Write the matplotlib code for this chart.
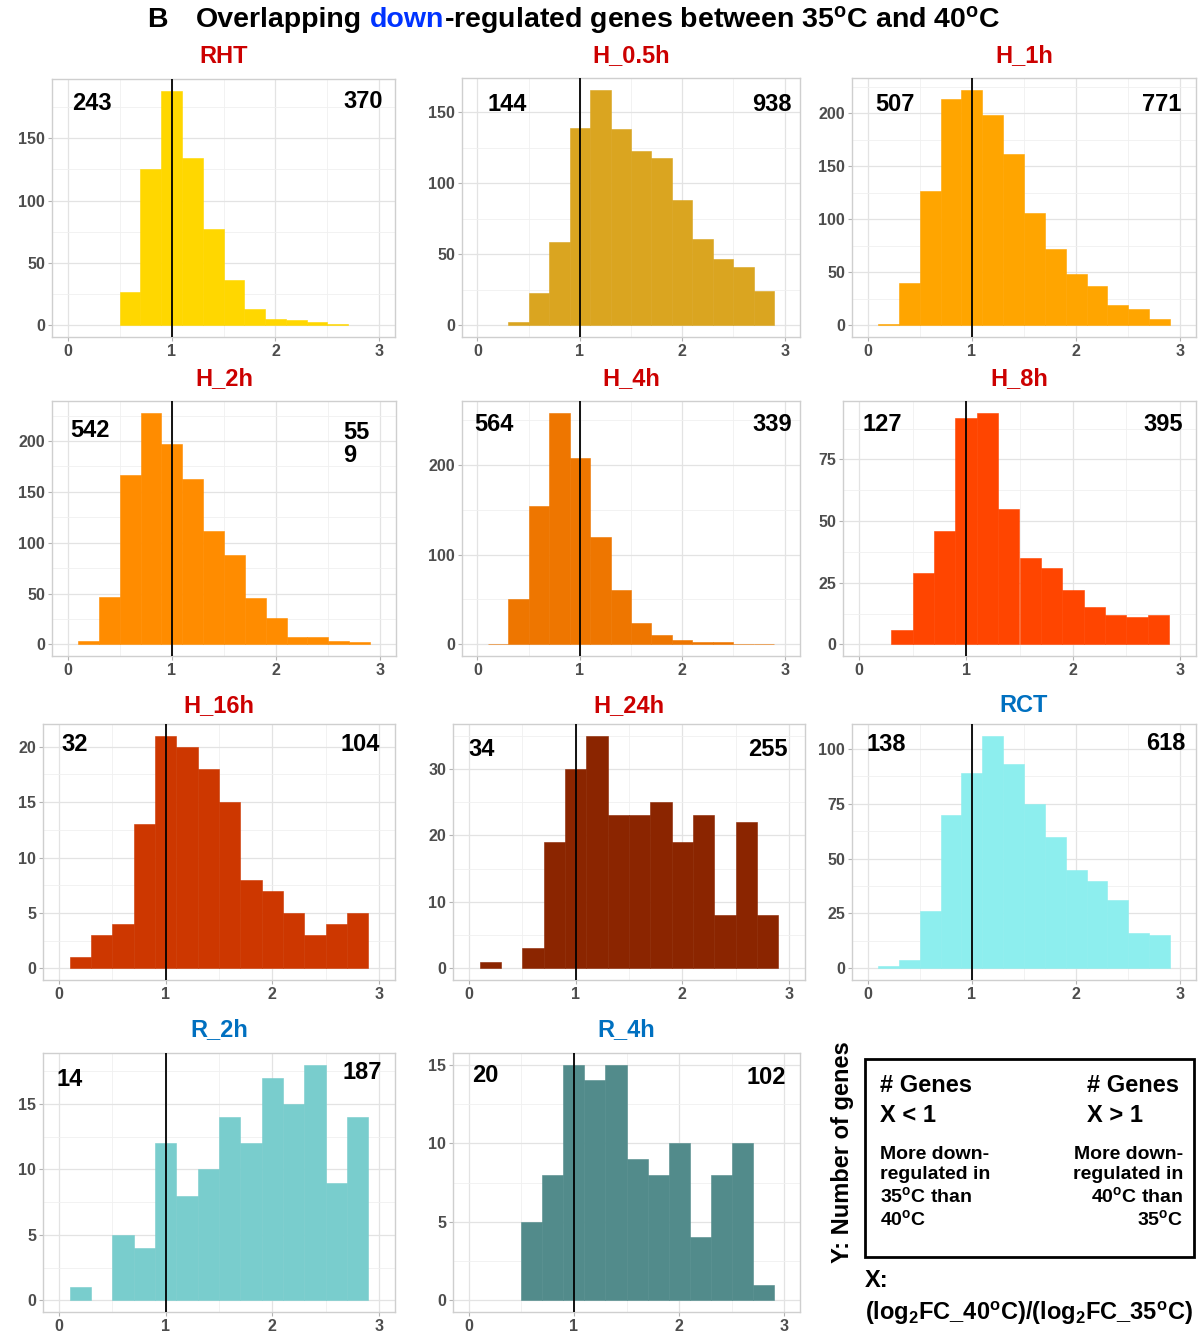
import matplotlib
matplotlib.use('Agg')
import matplotlib.pyplot as plt
from matplotlib.patches import Rectangle
from matplotlib.ticker import MultipleLocator
import numpy as np

plt.rcParams['font.family'] = ['Liberation Sans', 'DejaVu Sans']
plt.rcParams['font.weight'] = 'bold'
plt.rcParams['mathtext.fontset'] = 'custom'
plt.rcParams['mathtext.default'] = 'regular'

W, H = 1199, 1332

# histogram bins of width 0.2, centred at 0.2 ... 2.8
bin_centers = np.round(np.arange(0.2, 2.81, 0.2), 1)

panels = ['RHT', 'H_0.5h', 'H_1h', 'H_2h', 'H_4h', 'H_8h',
          'H_16h', 'H_24h', 'RCT', 'R_2h', 'R_4h']

counts_rht = [0, 0, 27, 125, 188, 134, 77, 36, 13, 5, 4, 3, 1, 0]
counts_h05 = [0, 2, 23, 59, 139, 166, 138, 123, 118, 88, 61, 47, 41, 24]
counts_h1 = [1, 40, 127, 213, 222, 198, 161, 106, 72, 48, 37, 19, 15, 6]
counts_h2 = [3, 47, 167, 228, 197, 163, 112, 88, 46, 26, 7, 7, 3, 2]
counts_h4 = [1, 51, 154, 258, 208, 119, 61, 24, 11, 5, 3, 3, 1, 1]
counts_h8 = [0, 6, 29, 46, 92, 94, 55, 35, 31, 22, 15, 12, 11, 12]
counts_h16 = [1, 3, 4, 13, 21, 20, 18, 15, 8, 7, 5, 3, 4, 5]
counts_h24 = [1, 0, 3, 19, 30, 35, 23, 23, 25, 19, 23, 8, 22, 8]
counts_rct = [1, 4, 26, 70, 89, 106, 93, 75, 60, 45, 40, 31, 16, 15]
counts_r2 = [1, 0, 5, 4, 12, 8, 10, 14, 12, 17, 15, 18, 9, 14]
counts_r4 = [0, 0, 5, 8, 15, 14, 15, 9, 8, 10, 4, 8, 10, 1]
all_counts = [counts_rht, counts_h05, counts_h1, counts_h2, counts_h4, counts_h8,
              counts_h16, counts_h24, counts_rct, counts_r2, counts_r4]

# genes with X < 1 / X > 1 (as printed in the corners)
n_below = ['243', '144', '507', '542', '564', '127', '32', '34', '138', '14', '20']
n_above = ['370', '938', '771', '55\n9', '339', '395', '104', '255', '618', '187', '102']

bar_colors = ['#FFD700', '#DAA520', '#FFA500', '#FF8C00', '#EE7600', '#FF4500',
              '#CD3700', '#8B2500', '#8DEEEE', '#79CDCD', '#528B8B']
title_colors = ['#CC0000'] * 8 + ['#0070C0'] * 3
ytick_step = [50, 50, 50, 50, 100, 25, 5, 10, 25, 5, 5]

# panel rectangles in pixels: left, top, right, bottom
rects = [(52, 79, 395, 337), (462, 78, 800, 337), (852, 78, 1196, 337),
         (52, 401, 396, 656), (462, 401, 800, 656), (843, 401, 1196, 656),
         (43, 724, 395, 980), (453, 724, 805, 980), (852, 724, 1196, 980),
         (43, 1053, 395, 1312), (453, 1053, 800, 1312)]
title_pad = [11.5, 11.5, 11.5, 11.5, 11.5, 11.5, 8.5, 8.5, 8.5, 12.5, 12.5]
# corner label positions (axes fraction)
left_xy = [(0.117, 0.905), (0.133, 0.896), (0.125, 0.896), (0.11, 0.886),
           (0.095, 0.906), (0.11, 0.906), (0.09, 0.918), (0.082, 0.90),
           (0.10, 0.918), (0.077, 0.896), (0.092, 0.915)]
right_xy = [(0.907, 0.912), (0.917, 0.896), (0.90, 0.896), (0.846, 0.831),
            (0.917, 0.906), (0.906, 0.906), (0.90, 0.918), (0.895, 0.90),
            (0.913, 0.925), (0.906, 0.923), (0.902, 0.907)]

fig = plt.figure(figsize=(W / 100, H / 100), dpi=100)
fig.patch.set_facecolor('white')

for i, name in enumerate(panels):
    l, t, r, b = rects[i]
    ax = fig.add_axes([l / W, 1 - b / H, (r - l) / W, (b - t) / H])
    counts = np.array(all_counts[i])
    nz = counts > 0   # empty bins draw nothing
    ax.bar(bin_centers[nz], counts[nz], width=0.2, color=bar_colors[i],
           edgecolor=bar_colors[i], linewidth=0.4, zorder=2)
    ax.axvline(1, color='black', lw=1.3, zorder=3)
    ymax = counts.max()
    ax.set_xlim(-0.15, 3.15)
    ax.set_ylim(-0.05 * ymax, 1.05 * ymax)
    ax.xaxis.set_major_locator(MultipleLocator(1))
    ax.xaxis.set_minor_locator(MultipleLocator(0.5))
    ax.yaxis.set_major_locator(MultipleLocator(ytick_step[i]))
    ax.yaxis.set_minor_locator(MultipleLocator(ytick_step[i] / 2))
    ax.set_axisbelow(True)
    ax.grid(which='major', color='#E3E3E3', lw=0.9)
    ax.grid(which='minor', color='#F0F0F0', lw=0.6)
    for s in ax.spines.values():
        s.set_color('#CFCFCF')
        s.set_linewidth(1.0)
    ax.tick_params(which='major', length=3, color='#B3B3B3', labelsize=11.5,
                   labelcolor='#4D4D4D', pad=2)
    ax.tick_params(which='minor', length=0)
    for lab in ax.get_xticklabels() + ax.get_yticklabels():
        lab.set_fontweight('bold')
    ax.set_title(name, color=title_colors[i], fontsize=17, fontweight='bold',
                 pad=title_pad[i])
    ax.text(left_xy[i][0], left_xy[i][1], n_below[i], transform=ax.transAxes,
            ha='center', va='center', fontsize=17, fontweight='bold', color='black')
    if '\n' in n_above[i]:
        ax.text(right_xy[i][0], right_xy[i][1], n_above[i], transform=ax.transAxes,
                ha='left', va='center', fontsize=17, fontweight='bold',
                color='black', linespacing=1.0)
    else:
        ax.text(right_xy[i][0], right_xy[i][1], n_above[i], transform=ax.transAxes,
                ha='center', va='center', fontsize=17, fontweight='bold', color='black')


def fx(x):
    return x / W


def fy(y):
    return 1 - y / H


# ── main title, with "down" in blue ──
renderer = fig.canvas.get_renderer()
fig.text(fx(147), fy(27), 'B', fontsize=20.5, fontweight='bold', va='baseline')
x = 196
pieces = [('Overlapping', 'black'), ('down', '#0033FF'),
          ('-regulated genes between 35$^{o}$C and 40$^{o}$C', 'black')]
for k, (txt, col) in enumerate(pieces):
    tt = fig.text(fx(x), fy(27), txt, fontsize=20.5, fontweight='bold',
                  color=col, va='baseline', ha='left')
    x += tt.get_window_extent(renderer).width
    if k == 0:
        x += 8

# ── key box ──
fig.add_artist(Rectangle((fx(865), fy(1257)), (1194 - 865) / W, (1257 - 1059) / H,
                         transform=fig.transFigure, fill=False, lw=2, ec='black'))
fig.text(fx(880), fy(1092), '# Genes', fontsize=17, va='baseline')
fig.text(fx(880), fy(1122), 'X < 1', fontsize=17, va='baseline')
fig.text(fx(1087), fy(1092), '# Genes', fontsize=17, va='baseline')
fig.text(fx(1087), fy(1122), 'X > 1', fontsize=17, va='baseline')
fig.text(fx(880), fy(1146), 'More down-\nregulated in\n35$^{o}$C than\n40$^{o}$C',
         fontsize=14, va='top', ha='left', linespacing=1.2)
fig.text(fx(1183), fy(1146), 'More down-\nregulated in\n40$^{o}$C than\n35$^{o}$C',
         fontsize=14, va='top', ha='right', multialignment='right', linespacing=1.2)
fig.text(fx(843), fy(1152), 'Y: Number of genes', fontsize=17, rotation=90,
         ha='center', va='center')
fig.text(fx(865), fy(1287), 'X:', fontsize=17, va='baseline')
fig.text(fx(865), fy(1320), '(log$_{2}$FC_40$^{o}$C)/(log$_{2}$FC_35$^{o}$C)',
         fontsize=17, va='baseline')

fig.savefig('out.png', dpi=100)
